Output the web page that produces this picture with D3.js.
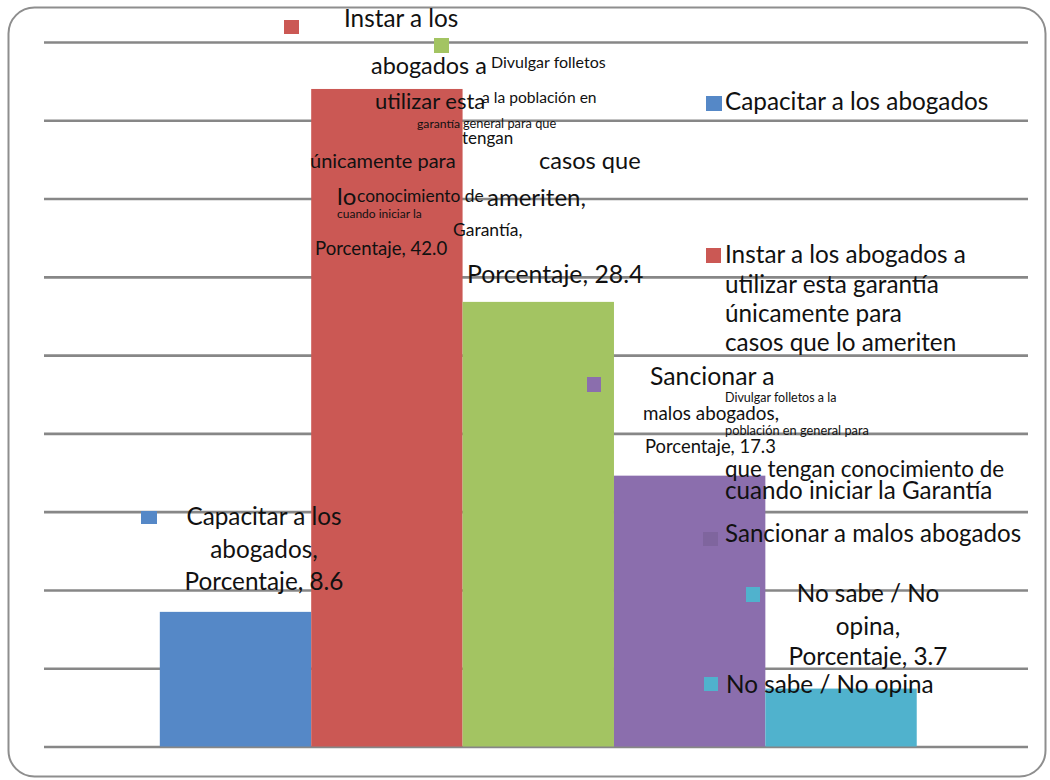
<!DOCTYPE html>
<html>
<head>
<meta charset="utf-8">
<script src="https://cdn.jsdelivr.net/npm/d3@7"></script>
<style>
  html, body { margin: 0; padding: 0; background: #ffffff; }
  svg text { font-family: Lato, "Open Sans", sans-serif; fill: #111; }
</style>
</head>
<body>
<svg id="chart" width="1050" height="780"></svg>
<script>
// Survey answers: one category, five response series
const categories = ["Porcentaje"];
const seriesNames = [
  "Capacitar a los abogados",
  "Instar a los abogados a utilizar esta garantía únicamente para casos que lo ameriten",
  "Divulgar folletos a la población en general para que tengan conocimiento de cuando iniciar la Garantía",
  "Sancionar a malos abogados",
  "No sabe / No opina"
];
const values = [8.6, 42.0, 28.4, 17.3, 3.7];
const seriesColors = ["#5588c7", "#cb5854", "#a3c462", "#8b6ead", "#50b2cd"];
const yTicks = [0, 5, 10, 15, 20, 25, 30, 35, 40, 45];

// Legend text, broken into the lines it is drawn on
const legendLines = [
  ["Capacitar a los abogados"],
  ["Instar a los abogados a", "utilizar esta garantía", "únicamente para", "casos que lo ameriten"],
  ["Divulgar folletos a la", "población en general para", "que tengan conocimiento de", "cuando iniciar la Garantía"],
  ["Sancionar a malos abogados"],
  ["No sabe / No opina"]
];

const svg = d3.select("#chart");
const plot = { left: 44, right: 1028, top: 42, bottom: 746.5 };

const y = d3.scaleLinear().domain([0, 45]).range([plot.bottom, plot.top]);
const x0 = d3.scaleBand().domain(categories).range([plot.left, plot.right])
  .paddingInner(0).paddingOuter(0.15).align(0.51);
const x1 = d3.scaleBand().domain(seriesNames).range([0, x0.bandwidth()]);
const color = d3.scaleOrdinal().domain(seriesNames).range(seriesColors);

// outer frame
svg.append("rect")
  .attr("x", 8.5).attr("y", 7.5).attr("width", 1037).attr("height", 769)
  .attr("rx", 26).attr("ry", 26)
  .attr("fill", "#fff").attr("stroke", "#8e8e8e").attr("stroke-width", 2);

// horizontal gridlines
const grid = svg.append("g").attr("transform", `translate(${plot.left},0)`)
  .call(d3.axisLeft(y).tickValues(yTicks).tickSize(-(plot.right - plot.left)).tickFormat(""));
grid.select(".domain").remove();
grid.selectAll(".tick line").attr("stroke", "#878787").attr("stroke-width", 2.6);

// bars
const data = seriesNames.map((s, i) => ({ cat: categories[0], series: s, value: values[i] }));
svg.append("g").selectAll("rect").data(data).join("rect")
  .attr("x", d => x0(d.cat) + x1(d.series))
  .attr("y", d => y(d.value))
  .attr("width", x1.bandwidth())
  .attr("height", d => y(0) - y(d.value))
  .attr("fill", d => color(d.series));

const pct = i => `${categories[0]}, ${values[i].toFixed(1)}`;

// colour keys of data labels and legend
const keys = [
  { s: 0, x: 141, y: 511, w: 16, h: 13 },
  { s: 1, x: 284, y: 20, w: 15, h: 14 },
  { s: 2, x: 434, y: 38, w: 15, h: 15 },
  { s: 3, x: 587, y: 377, w: 14, h: 15 },
  { s: 4, x: 746, y: 587, w: 14, h: 15 },
  { s: 0, x: 706, y: 96, w: 16, h: 15 },
  { s: 1, x: 706, y: 248, w: 15, h: 15 },
  { s: 3, x: 703, y: 532, w: 15, h: 14, dark: true },
  { s: 4, x: 704, y: 677, w: 14, h: 14 }
];
svg.append("g").selectAll("rect").data(keys).join("rect")
  .attr("x", d => d.x).attr("y", d => d.y).attr("width", d => d.w).attr("height", d => d.h)
  .attr("fill", d => d.dark ? d3.color(seriesColors[d.s]).darker(0.25) : seriesColors[d.s]);

// data label fragments
const labelText = [
  // Capacitar
  { t: "Capacitar a los", x: 264, y: 525, s: 24.3, a: "middle" },
  { t: "abogados,", x: 264, y: 558, s: 24.3, a: "middle" },
  { t: pct(0), x: 264, y: 590, s: 24.3, a: "middle" },
  // Instar
  { t: "Instar a los", x: 344, y: 27, s: 24.3 },
  { t: "abogados a", x: 371, y: 74, s: 23.4 },
  { t: "utilizar esta", x: 375, y: 109, s: 22 },
  { t: "garantía", x: 417, y: 128, s: 12.2 },
  { t: "únicamente para", x: 310, y: 168, s: 20 },
  { t: "casos que", x: 539, y: 169, s: 23.6 },
  { t: "lo", x: 337, y: 205, s: 24 },
  { t: "ameriten,", x: 487, y: 206, s: 24 },
  { t: pct(1), x: 315, y: 255, s: 18.6 },
  // Divulgar
  { t: "Divulgar folletos", x: 491, y: 68, s: 16 },
  { t: "a la población en", x: 482, y: 103, s: 15.6 },
  { t: "general para que", x: 463, y: 128, s: 12.8 },
  { t: "tengan", x: 462, y: 144, s: 17 },
  { t: "conocimiento de", x: 357, y: 202, s: 17.4 },
  { t: "cuando iniciar la", x: 337, y: 218, s: 12 },
  { t: "Garantía,", x: 453, y: 236, s: 17.5 },
  { t: pct(2), x: 467, y: 283, s: 24.8 },
  // Sancionar
  { t: "Sancionar a", x: 650, y: 385, s: 24.8 },
  { t: "malos abogados,", x: 643, y: 420, s: 18.8 },
  { t: pct(3), x: 645, y: 453, s: 18.4 },
  // No sabe
  { t: "No sabe / No", x: 868, y: 602, s: 24.3, a: "middle" },
  { t: "opina,", x: 868, y: 635, s: 24.3, a: "middle" },
  { t: pct(4), x: 868, y: 665, s: 24.3, a: "middle" }
];

// legend rows
const legendRows = [
  { t: legendLines[0][0], x: 725, y: 110, s: 24.3 },
  { t: legendLines[1][0], x: 725, y: 263, s: 24.3 },
  { t: legendLines[1][1], x: 725, y: 293, s: 24.3 },
  { t: legendLines[1][2], x: 725, y: 322, s: 24.3 },
  { t: legendLines[1][3], x: 725, y: 351, s: 24.3 },
  { t: legendLines[2][0], x: 725, y: 402, s: 12.5 },
  { t: legendLines[2][1], x: 725, y: 435, s: 12.8 },
  { t: legendLines[2][2], x: 725, y: 477, s: 22.4 },
  { t: legendLines[2][3], x: 725, y: 499, s: 24.2 },
  { t: legendLines[3][0], x: 725, y: 542, s: 24.1 },
  { t: legendLines[4][0], x: 726, y: 693, s: 24.3 }
];

svg.append("g").selectAll("text").data(labelText.concat(legendRows)).join("text")
  .attr("x", d => d.x).attr("y", d => d.y)
  .attr("font-size", d => d.s)
  .attr("text-anchor", d => d.a || "start")
  .text(d => d.t);
</script>
</body>
</html>
